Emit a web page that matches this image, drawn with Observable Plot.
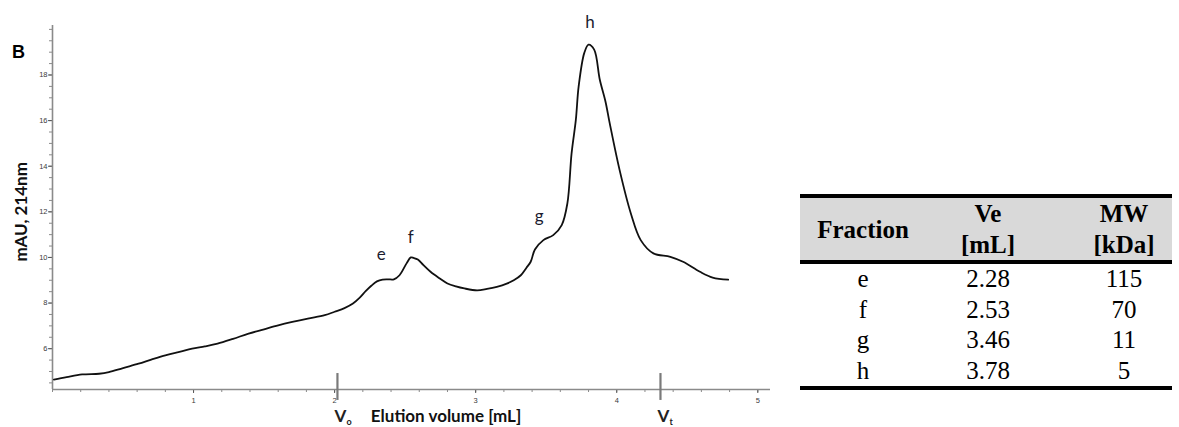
<!DOCTYPE html>
<html>
<head>
<meta charset="utf-8">
<script src="https://cdn.jsdelivr.net/npm/d3@7"></script>
<script src="https://cdn.jsdelivr.net/npm/@observablehq/plot@0.6"></script>
<style>
  html, body { margin: 0; padding: 0; background: #fff; }
  body { width: 1179px; height: 427px; overflow: hidden; position: relative; }
  #chart { position: absolute; left: 0; top: 0; }
  #panel { position: absolute; left: 12px; top: 43px; font: bold 18px "Liberation Sans", Arial, sans-serif; line-height: 18px; }
  #tbl { position: absolute; left: 800px; top: 194px; width: 372px; border-collapse: collapse;
         font-family: "Liberation Serif", "Times New Roman", serif; font-size: 25px; color: #000; }
  #tbl th, #tbl td { padding: 0; text-align: center; }
  #tbl thead tr { background: #d9d9d9; border-top: 4px solid #000; border-bottom: 4px solid #000; }
  #tbl thead th { height: 62px; line-height: 31px; font-weight: bold; }
  #tbl tbody td { height: 30.5px; line-height: 30.5px; }
  #tbl tbody tr:last-child { border-bottom: 4px solid #000; }
  #tbl .c1 { width: 126px; }
  #tbl .c2 { width: 124px; }
  #tbl .c3 { width: 122px; padding-left: 26px; box-sizing: border-box; }
</style>
</head>
<body>
<div id="chart"></div>
<div id="panel">B</div>
<table id="tbl"></table>
<script>
// ---- Chromatogram trace (Elution volume [mL] vs mAU at 214 nm) ----
const elutionVolume = [0.01, 0.10, 0.21, 0.33, 0.40, 0.50, 0.61, 0.70, 0.80, 0.90, 0.99, 1.08, 1.17, 1.28, 1.39, 1.50, 1.60, 1.70, 1.81, 1.93, 2.00, 2.07, 2.13, 2.18, 2.22, 2.26, 2.30, 2.34, 2.38, 2.42, 2.46, 2.51, 2.54, 2.56, 2.59, 2.63, 2.68, 2.74, 2.80, 2.86, 2.92, 3.01, 3.08, 3.15, 3.22, 3.27, 3.32, 3.36, 3.39, 3.42, 3.48, 3.55, 3.61, 3.65, 3.68, 3.71, 3.73, 3.77, 3.80, 3.84, 3.88, 3.92, 3.95, 4.02, 4.10, 4.17, 4.26, 4.38, 4.47, 4.59, 4.68, 4.79];
const absorbance    = [4.64, 4.75, 4.87, 4.90, 4.97, 5.15, 5.34, 5.52, 5.71, 5.86, 6.00, 6.10, 6.22, 6.43, 6.66, 6.85, 7.02, 7.17, 7.32, 7.47, 7.62, 7.78, 7.98, 8.25, 8.52, 8.76, 8.95, 9.03, 9.04, 9.04, 9.22, 9.74, 10.00, 9.98, 9.91, 9.66, 9.37, 9.10, 8.86, 8.73, 8.64, 8.56, 8.62, 8.71, 8.85, 9.00, 9.22, 9.55, 9.81, 10.35, 10.76, 10.98, 11.42, 12.37, 14.57, 16.03, 17.50, 18.97, 19.33, 19.11, 17.79, 16.84, 15.89, 13.84, 11.93, 10.76, 10.18, 10.03, 9.81, 9.37, 9.12, 9.03];

// ---- Peak labels ----
const peakNames = ["e", "f", "g", "h"];
const peakLabelX = [2.33, 2.54, 3.45, 3.81];
const peakLabelY = [9.88, 10.63, 11.55, 20.04];

// ---- Void / total volume markers ----
const markerNames = ["V", "V"];
const markerSubs = ["o", "t"];
const markerX = [2.02, 4.31];

// ---- Axis ticks ----
const xMajorTicks = [1, 2, 3, 4, 5];
const xMinorTicks = d3.range(0, 5.01, 0.2).map(v => +v.toFixed(1));
const yMajorTicks = [6, 8, 10, 12, 14, 16, 18];
const yMinorTicks = d3.range(4.5, 20.01, 0.5);

// ---- Table ----
const tableFractions = ["e", "f", "g", "h"];
const tableVe = ["2.28", "2.53", "3.46", "3.78"];
const tableMW = ["115", "70", "11", "5"];

const yLow = 4.21, yHigh = 20.17;
const axisColor = "#8a8a8a";
const tickFont = "Liberation Sans, Arial, sans-serif";
const calibriLike = "Lato, 'Open Sans', sans-serif";

const chart = Plot.plot({
  width: 790,
  height: 427,
  marginLeft: 52,
  marginRight: 20,
  marginTop: 25,
  marginBottom: 38,
  style: { background: "transparent", overflow: "visible" },
  x: { domain: [0, 5.09] },
  y: { domain: [yLow, yHigh] },
  marks: [
    // minor ticks
    Plot.axisY({ ticks: yMinorTicks, tickSize: 3, text: null, label: null, stroke: axisColor, strokeWidth: 1 }),
    Plot.axisX({ ticks: xMinorTicks, tickSize: 3, text: null, label: null, stroke: axisColor, strokeWidth: 1 }),
    // major ticks + labels
    Plot.axisY({ ticks: yMajorTicks, tickSize: 4, tickPadding: 1, label: null, stroke: "#555",
                 fill: "#3a3a3a", fontSize: 7.5, fontFamily: tickFont, tickFormat: d => d }),
    Plot.axisX({ ticks: xMajorTicks, tickSize: 4, tickPadding: 4, label: null, stroke: "#555",
                 fill: "#3a3a3a", fontSize: 7.5, fontFamily: tickFont, tickFormat: d => d }),
    // axis lines
    Plot.ruleX([0], { stroke: axisColor, strokeWidth: 1.6 }),
    Plot.ruleY([yLow], { stroke: axisColor, strokeWidth: 1.6 }),
    // V markers
    Plot.ruleX(markerX, { x: d => d, y1: yLow - 0.48, y2: yLow + 0.70, stroke: "#7a7a7a", strokeWidth: 2.2, clip: false }),
    Plot.text(markerNames, { x: markerX, text: d => d, frameAnchor: "bottom", dy: 32, dx: -3,
                             textAnchor: "start", lineAnchor: "bottom", fontSize: 17, fontWeight: "bold",
                             fontFamily: calibriLike, fill: "#222" }),
    Plot.text(markerSubs, { x: markerX, text: d => d, frameAnchor: "bottom", dy: 35, dx: 9,
                            textAnchor: "start", lineAnchor: "bottom", fontSize: 9, fontWeight: "bold",
                            fontFamily: calibriLike, fill: "#222" }),
    // axis titles
    Plot.text(["Elution volume [mL]"], { x: 2.79, text: d => d, frameAnchor: "bottom", dy: 32,
                                        textAnchor: "middle", lineAnchor: "bottom", fontSize: 17, fontWeight: "bold",
                                        fontFamily: calibriLike, fill: "#111" }),
    Plot.text(["mAU, 214nm"], { y: 12.0, text: d => d, frameAnchor: "left", dx: -31, rotate: -90,
                                textAnchor: "middle", lineAnchor: "middle", fontSize: 17, fontWeight: "bold",
                                fontFamily: calibriLike, fill: "#111" }),
    // trace
    Plot.line(absorbance, { x: elutionVolume, y: absorbance, curve: "catmull-rom",
                            stroke: "#111", strokeWidth: 1.8 }),
    // peak labels
    Plot.text(peakNames, { x: peakLabelX, y: peakLabelY, text: d => d, lineAnchor: "bottom",
                           fontSize: 17, fontFamily: calibriLike, fill: "#1c1c30", clip: false })
  ]
});
document.getElementById("chart").appendChild(chart);

// Build the table
const tbl = d3.select("#tbl");
const head = tbl.append("thead").append("tr");
head.append("th").attr("class", "c1").text("Fraction");
head.append("th").attr("class", "c2").html("Ve<br>[mL]");
head.append("th").attr("class", "c3").html("MW<br>[kDa]");
const body = tbl.append("tbody");
tableFractions.forEach((f, i) => {
  const r = body.append("tr");
  r.append("td").attr("class", "c1").text(f);
  r.append("td").attr("class", "c2").text(tableVe[i]);
  r.append("td").attr("class", "c3").text(tableMW[i]);
});
</script>
</body>
</html>
